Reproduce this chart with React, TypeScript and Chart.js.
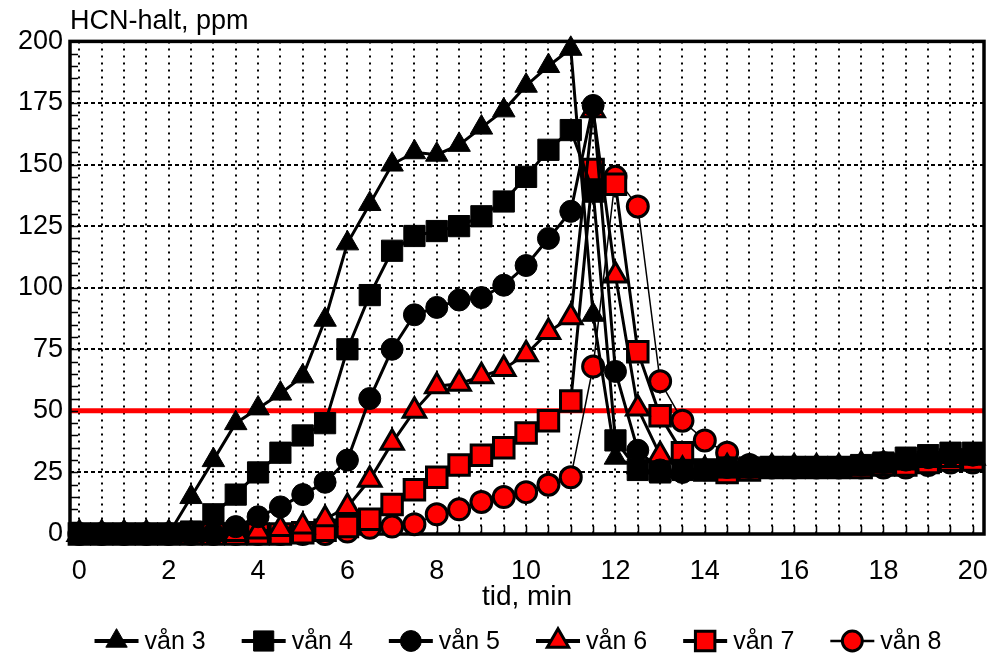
import React, { useEffect, useRef } from 'react';
import { Chart, registerables } from 'chart.js';

Chart.register(...registerables);

const FONT = '"Liberation Sans", Arial, sans-serif';

// time in minutes
const TIMES = [0, 0.5, 1, 1.5, 2, 2.5, 3, 3.5, 4, 4.5, 5, 5.5, 6, 6.5, 7, 7.5, 8, 8.5, 9, 9.5, 10,
  10.5, 11, 11.5, 12, 12.5, 13, 13.5, 14, 14.5, 15, 15.5, 16, 16.5, 17, 17.5, 18, 18.5, 19, 19.5, 20];

// HCN ppm per floor
const VAN3 = [0, 0, 0, 0, 0, 15, 30, 45, 51, 57, 64, 87, 118, 134, 150, 155, 154, 158, 165, 172, 182,
  190, 197, 89, 31, 27, 24, 25, 26, 26, 27, 27, 27, 27, 27, 28, 29, 30, 31, 32, 32];
const VAN4 = [0, 0, 0, 0, 0, 1, 8, 16, 25, 33, 40, 45, 75, 97, 115, 121, 123, 125, 129, 135, 145,
  156, 164, 139, 38, 26, 25, 26, 26, 27, 27, 27, 27, 27, 27, 28, 29, 31, 32, 33, 33];
const VAN5 = [0, 0, 0, 0, 0, 0, 0, 3, 7, 11, 16, 21, 30, 55, 75, 89, 92, 95, 96, 101, 109,
  120, 131, 174, 66, 34, 26, 25, 26, 27, 27, 27, 27, 27, 27, 28, 29, 30, 31, 32, 32];
const VAN6 = [0, 0, 0, 0, 0, 0, 0, 0, 1, 2, 3, 6, 11, 22, 37, 50, 60, 61, 64, 67, 73,
  82, 88, 172, 105, 51, 32, 26, 26, 27, 27, 27, 27, 27, 27, 28, 28, 29, 30, 30, 31];
const VAN7 = [0, 0, 0, 0, 0, 0, 0, 0, 0, 0, 0.5, 1.5, 3, 6, 12, 18, 23, 28, 32, 35, 41,
  46, 54, 148, 142, 74, 48, 33, 26, 25, 26, 27, 27, 27, 27, 27, 28, 28, 29, 30, 30];
const VAN8 = [0, 0, 0, 0, 0, 0, 0, 0, 0, 0, 0, 0, 1, 2.5, 3, 4, 8, 10, 13, 15, 17,
  20, 23, 68, 145, 133, 62, 46, 38, 33, 28, 27, 27, 27, 27, 27, 27, 27, 28, 29, 29];

const SERIES_LABELS = ['vån 3', 'vån 4', 'vån 5', 'vån 6', 'vån 7', 'vån 8'];
const X_TICK_LABELS = ['0', '2', '4', '6', '8', '10', '12', '14', '16', '18', '20'];
const LIMIT_PPM = 50;

const RED = '#ff0000';
const BLACK = '#000000';

type Style = { shape: 'triangle' | 'rect' | 'circle'; radius: number; fill: string; border: number; line: number };
const STYLES: Style[] = [
  { shape: 'triangle', radius: 13, fill: BLACK, border: 1, line: 3 },
  { shape: 'rect', radius: 15, fill: BLACK, border: 1, line: 3 },
  { shape: 'circle', radius: 11, fill: BLACK, border: 1, line: 3 },
  { shape: 'triangle', radius: 13, fill: RED, border: 3, line: 3 },
  { shape: 'rect', radius: 14.5, fill: RED, border: 3, line: 3 },
  { shape: 'circle', radius: 10.5, fill: RED, border: 3, line: 1.5 },
];

function drawMarker(ctx: CanvasRenderingContext2D, s: Style, x: number, y: number) {
  ctx.beginPath();
  const r = s.radius;
  if (s.shape === 'triangle') {
    ctx.moveTo(x, y - r);
    ctx.lineTo(x + r * 0.866, y + r * 0.5);
    ctx.lineTo(x - r * 0.866, y + r * 0.5);
    ctx.closePath();
  } else if (s.shape === 'rect') {
    const h = r * Math.SQRT1_2;
    ctx.rect(x - h, y - h, 2 * h, 2 * h);
  } else {
    ctx.arc(x, y, r, 0, Math.PI * 2);
  }
  ctx.fillStyle = s.fill;
  ctx.fill();
  ctx.lineWidth = s.border;
  ctx.strokeStyle = BLACK;
  ctx.stroke();
}

const framePlugin = {
  id: 'frameAndDecor',
  beforeDatasetsDraw(chart: any) {
    const { ctx, chartArea: a, scales } = chart;
    ctx.save();
    // limit line
    const yl = scales.y.getPixelForValue(LIMIT_PPM);
    ctx.strokeStyle = RED;
    ctx.lineWidth = 5;
    ctx.beginPath();
    ctx.moveTo(a.left, yl);
    ctx.lineTo(a.right, yl);
    ctx.stroke();
    // minor ticks (inside)
    ctx.strokeStyle = BLACK;
    ctx.lineWidth = 1.5;
    ctx.beginPath();
    for (const t of scales.x.ticks) {
      const px = Math.round(scales.x.getPixelForValue(t.value)) + 0.5;
      ctx.moveTo(px, a.bottom);
      ctx.lineTo(px, a.bottom - 8);
    }
    for (let v = 0; v <= 200; v += 5) {
      const py = Math.round(scales.y.getPixelForValue(v)) + 0.5;
      ctx.moveTo(a.left, py);
      ctx.lineTo(a.left + 8, py);
    }
    ctx.stroke();
    // frame
    ctx.lineWidth = 3.5;
    ctx.strokeRect(a.left, a.top, a.right - a.left, a.bottom - a.top);
    ctx.restore();
  },
};

const legendPlugin = {
  id: 'lineLegend',
  afterDraw(chart: any) {
    const { ctx } = chart;
    ctx.save();
    ctx.font = `25px ${FONT}`;
    ctx.textBaseline = 'middle';
    ctx.textAlign = 'left';
    const lineLen = 44;
    const textGap = 6;
    const itemGap = 36;
    const widths = SERIES_LABELS.map((l) => ctx.measureText(l).width);
    const total = widths.reduce((s, w) => s + lineLen + textGap + w, 0) + itemGap * (SERIES_LABELS.length - 1);
    let x = 518 - total / 2;
    const y = 641;
    SERIES_LABELS.forEach((label, i) => {
      const s = STYLES[i];
      ctx.strokeStyle = BLACK;
      ctx.lineWidth = s.line + 1;
      ctx.beginPath();
      ctx.moveTo(x, y);
      ctx.lineTo(x + lineLen, y);
      ctx.stroke();
      drawMarker(ctx, { ...s, radius: s.radius * 0.95 }, x + lineLen / 2, y);
      ctx.fillStyle = BLACK;
      ctx.fillText(label, x + lineLen + textGap, y + 1);
      x += lineLen + textGap + widths[i] + itemGap;
    });
    ctx.restore();
  },
};

export default function App() {
  const ref = useRef<HTMLCanvasElement | null>(null);

  useEffect(() => {
    document.body.style.margin = '0';
    if (!ref.current) return;
    const series = [VAN3, VAN4, VAN5, VAN6, VAN7, VAN8];
    const datasets = series.map((vals, i) => {
      const s = STYLES[i];
      return {
        label: SERIES_LABELS[i],
        data: vals.map((v, j) => ({ x: TIMES[j], y: v })),
        borderColor: BLACK,
        borderWidth: s.line,
        backgroundColor: s.fill,
        pointStyle: s.shape,
        pointRadius: s.radius,
        pointHoverRadius: s.radius,
        pointBackgroundColor: s.fill,
        pointBorderColor: BLACK,
        pointBorderWidth: s.border,
        tension: 0,
        fill: false,
        clip: 20,
      };
    });

    const chart = new Chart(ref.current, {
      type: 'line',
      data: { datasets },
      plugins: [framePlugin, legendPlugin],
      options: {
        animation: false,
        responsive: true,
        maintainAspectRatio: false,
        layout: { autoPadding: false, padding: { left: 0, right: 7, top: 0, bottom: 0 } },
        plugins: {
          legend: { display: false },
          tooltip: { enabled: false },
          title: {
            display: true,
            text: 'HCN-halt, ppm',
            align: 'start',
            fullSize: false,
            color: BLACK,
            font: { size: 27, family: FONT, weight: 'normal' },
            padding: { top: 5, bottom: 4 },
          },
        },
        scales: {
          x: {
            type: 'linear',
            min: -0.21,
            max: 20.25,
            afterFit: (scale: any) => {
              scale.height = 126;
              scale.paddingLeft = 0;
              scale.paddingRight = 0;
            },
            ticks: {
              stepSize: 0.5,
              includeBounds: false,
              autoSkip: false,
              maxRotation: 0,
              padding: 21,
              color: BLACK,
              font: { size: 27, family: FONT },
              callback: (v: any) => (X_TICK_LABELS.includes(String(v)) ? String(v) : ''),
            },
            grid: { color: BLACK, lineWidth: 2, drawTicks: false },
            border: { display: false, dash: [2, 5] },
            title: {
              display: true,
              text: 'tid, min',
              color: BLACK,
              font: { size: 28, family: FONT },
              padding: { top: 0, bottom: 46 },
            },
          },
          y: {
            type: 'linear',
            min: 0,
            max: 200,
            afterFit: (scale: any) => {
              scale.width = 70;
              scale.paddingTop = 0;
              scale.paddingBottom = 0;
            },
            ticks: {
              stepSize: 25,
              includeBounds: false,
              padding: 7,
              color: BLACK,
              font: { size: 27, family: FONT },
            },
            grid: { color: BLACK, lineWidth: 2, drawTicks: false },
            border: { display: false, dash: [4, 3] },
          },
        },
      },
    } as any);
    return () => chart.destroy();
  }, []);

  return (
    <div style={{ position: 'relative', width: 991, height: 660 }}>
      <canvas ref={ref} />
    </div>
  );
}
